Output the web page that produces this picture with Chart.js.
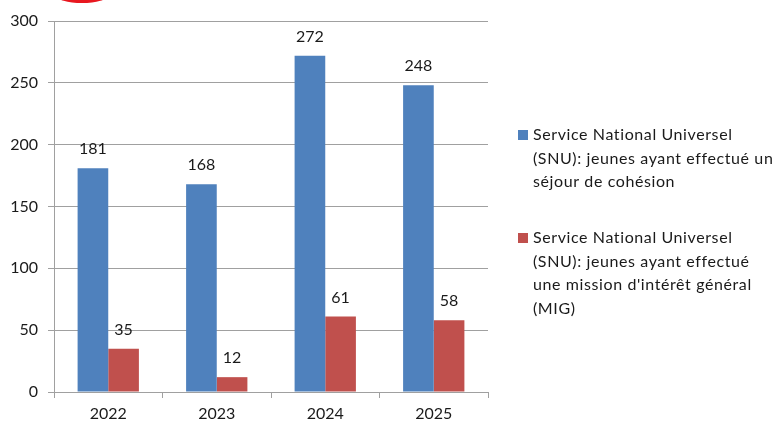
<!DOCTYPE html>
<html>
<head>
<meta charset="utf-8">
<script src="https://cdn.jsdelivr.net/npm/chart.js@4"></script>
<style>
html,body{margin:0;padding:0;background:#fff;overflow:hidden;}
#wrap{position:relative;width:774px;height:421px;}
#logo{position:absolute;left:56px;top:-12px;width:52px;height:15px;border-radius:50%;background:#e8171f;}
canvas{position:absolute;left:0;top:0;}
</style>
</head>
<body>
<div id="wrap">
<canvas id="c" width="774" height="421"></canvas>
<div id="logo"></div>
</div>
<script>
const categories = ['2022', '2023', '2024', '2025'];
const sejourValues = [181, 168, 272, 248];
const migValues = [35, 12, 61, 58];
const sejourLabel = ['Service National Universel', '(SNU): jeunes ayant effectué un', 'séjour de cohésion'];
const migLabel = ['Service National Universel', '(SNU): jeunes ayant effectué', 'une mission d\'intérêt général', '(MIG)'];
const yTicks = [0, 50, 100, 150, 200, 250, 300];

const FONT = 'Lato, "Open Sans", sans-serif';
const TEXT = '#1a1a1a';
const GRID = '#a0a0a0';

const valueLabels = {
  id: 'valueLabels',
  afterDatasetsDraw(chart) {
    const ctx = chart.ctx;
    ctx.save();
    ctx.font = '16px ' + FONT;
    ctx.fillStyle = TEXT;
    ctx.textAlign = 'center';
    ctx.textBaseline = 'middle';
    chart.data.datasets.forEach((ds, i) => {
      chart.getDatasetMeta(i).data.forEach((el, j) => {
        ctx.fillText(String(ds.data[j]), el.x, el.y - 19);
      });
    });
    ctx.restore();
  }
};

const sideLegend = {
  id: 'sideLegend',
  afterDraw(chart) {
    const ctx = chart.ctx;
    ctx.save();
    ctx.font = '16px ' + FONT;
    try { ctx.letterSpacing = '0.6px'; } catch (e) {}
    ctx.textBaseline = 'middle';
    const starts = [135, 238];
    chart.data.datasets.forEach((ds, i) => {
      const y0 = starts[i];
      ctx.fillStyle = ds.backgroundColor;
      ctx.fillRect(518, y0 - 5, 10, 10);
      ctx.fillStyle = TEXT;
      ds.legendLines.forEach((t, k) => {
        ctx.fillText(t, 533, y0 + k * 23.5);
      });
    });
    ctx.restore();
  }
};

new Chart(document.getElementById('c'), {
  type: 'bar',
  data: {
    labels: categories,
    datasets: [
      { label: sejourLabel.join(' '), legendLines: sejourLabel, data: sejourValues, backgroundColor: '#4F81BD', categoryPercentage: 0.565, barPercentage: 1.0 },
      { label: migLabel.join(' '), legendLines: migLabel, data: migValues, backgroundColor: '#C0504D', categoryPercentage: 0.565, barPercentage: 1.0 }
    ]
  },
  options: {
    responsive: false,
    animation: false,
    devicePixelRatio: 1,
    layout: { padding: { top: 21, right: 286, left: 0, bottom: 0 } },
    plugins: { legend: { display: false }, tooltip: { enabled: false } },
    scales: {
      x: {
        offset: true,
        grid: { offset: true, drawOnChartArea: false, drawTicks: true, tickLength: 6, color: GRID, lineWidth: 1 },
        border: { color: GRID, width: 1 },
        ticks: { color: TEXT, font: { family: FONT, size: 16 }, padding: 6, maxRotation: 0 },
        afterFit(s) { s.height = 29; }
      },
      y: {
        min: 0, max: 300,
        afterBuildTicks(s) { s.ticks = yTicks.map(v => ({ value: v })); },
        grid: { color: GRID, lineWidth: 1, drawTicks: true, tickLength: 6 },
        border: { color: GRID, width: 1 },
        ticks: { color: TEXT, font: { family: FONT, size: 16 }, padding: 10 },
        afterFit(s) { s.width = 54; }
      }
    }
  },
  plugins: [valueLabels, sideLegend]
});
</script>
</body>
</html>
